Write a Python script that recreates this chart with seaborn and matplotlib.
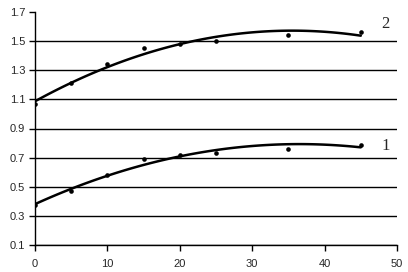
#! /usr/bin/env python3
'''
Two measured series with quadratic trend lines
'''
import matplotlib
matplotlib.use('Agg')
import matplotlib.pyplot as plt
import seaborn as sns

# data
X = [0, 5, 10, 15, 20, 25, 35, 45]
SERIES_1 = [0.375, 0.47, 0.58, 0.69, 0.72, 0.73, 0.76, 0.79]
SERIES_2 = [1.065, 1.21, 1.345, 1.45, 1.48, 1.50, 1.54, 1.56]
X_TICKS = [0, 10, 20, 30, 40, 50]
Y_TICKS = [0.1, 0.3, 0.5, 0.7, 0.9, 1.1, 1.3, 1.5, 1.7]
Y_LABELS = ['0.1', '0.3', '0.5', '0.7', '0.9', '1.1', '1.3', '1.5', '1.7']

sns.set_style('white')
plt.rcParams['font.family'] = ['Liberation Sans', 'DejaVu Sans']

fig = plt.figure(figsize=(4.08, 2.72), dpi=100)
ax = fig.add_axes([35 / 408, 1 - 245 / 272, 362 / 408, 233 / 272])

for y in (SERIES_1, SERIES_2):
    sns.regplot(x=X, y=y, order=2, ci=None, ax=ax, color='black',
                scatter_kws={'s': 11, 'marker': 's', 'linewidths': 0, 'alpha': 1},
                line_kws={'lw': 1.8})

ax.set_xlim(0, 50)
ax.set_ylim(0.1, 1.7)
ax.set_xticks(X_TICKS)
ax.set_yticks(Y_TICKS)
ax.set_yticklabels(Y_LABELS)
ax.tick_params(axis='both', labelsize=8, length=4, width=1, color='black',
               direction='out', bottom=True, left=True, pad=3)
ax.tick_params(axis='x', pad=6)
ax.yaxis.grid(True, color='black', lw=1)
ax.get_ygridlines()[-1].set_visible(False)
ax.set_axisbelow(True)
for s in ('top', 'right'):
    ax.spines[s].set_visible(False)
for s in ('left', 'bottom'):
    ax.spines[s].set_color('black')
    ax.spines[s].set_linewidth(1)

# series labels
ax.text(48.4, 1.615, '2', fontsize=12, family='Liberation Serif', ha='center', va='center')
ax.text(48.4, 0.78, '1', fontsize=12, family='Liberation Serif', ha='center', va='center')

fig.savefig('out.png', dpi=100)
